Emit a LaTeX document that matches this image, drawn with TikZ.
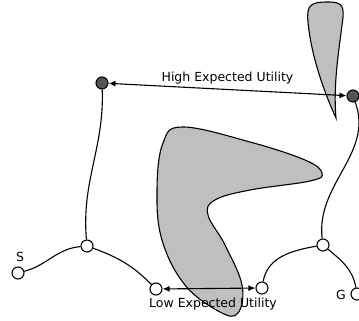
\documentclass[tikz,border=0pt]{standalone}
\usepackage{fontspec}
\setmainfont{DejaVu Sans}
\usetikzlibrary{arrows.meta}
\begin{document}
\begin{tikzpicture}[x=1pt,y=-1pt,
  state/.style={circle,draw=black,line width=1.1pt,minimum size=12pt,inner sep=0pt,fill=white},
  goalstate/.style={state,fill=black!67},
  edge/.style={line width=1.1pt},
  obst/.style={draw=black,line width=1.1pt,fill=black!25},
  util/.style={line width=1.1pt,{Latex[length=7pt,width=6pt]}-{Latex[length=7pt,width=6pt]}},
  lbl/.style={font=\fontsize{12.5}{15}\selectfont,inner sep=0pt}]
\useasboundingbox (0,0) rectangle (359,321);
% obstacles
\path[obst] (336,118) .. controls (333,85) and (339,50) .. (342,25)
  .. controls (345,6) and (343,2) .. (328,2)
  .. controls (312,2) and (306,4) .. (308,22)
  .. controls (311,55) and (324,92) .. (336,118) -- cycle;
\path[obst] plot[smooth cycle,tension=0.65] coordinates {
  (183,127) (250,142) (305,160) (322,173) (310,181) (250,190) (215,200)
  (208,215) (225,245) (242,285) (238,313) (220,312) (185,285) (162,240)
  (157,190) (163,143)};
% nodes
\node[goalstate] (a) at (102,83) {};
\node[goalstate] (b) at (353,96) {};
\node[state] (s) at (18,273) {};
\node[state] (n1) at (87,246) {};
\node[state] (n2) at (156,289) {};
\node[state] (n3) at (262,288) {};
\node[state] (n4) at (323,245) {};
\node[state] (g) at (357,294) {};
% paths
\draw[edge] (s) to[out=15,in=185] (n1);
\draw[edge] (n1) to[out=-20,in=135] (n2);
\draw[edge] (n1) to[out=95,in=-88] (a);
\draw[edge] (n3) to[out=80,in=190] (n4);
\draw[edge] (n4) to[out=97,in=-70] (b);
\draw[edge] (n4) to[out=-40,in=100] (g);
% utilities
\draw[util] (a) -- (b) node[lbl,pos=0.5,above=5pt] (hi) {High Expected Utility};
\draw[util] (n2) -- (n3) node[lbl,pos=0.5,below=9pt,xshift=4pt] (lo) {Low Expected Utility};
\node[lbl] (sl) at (20,257) {S};
\node[lbl] (gl) at (341,295) {G};
\end{tikzpicture}
\end{document}
